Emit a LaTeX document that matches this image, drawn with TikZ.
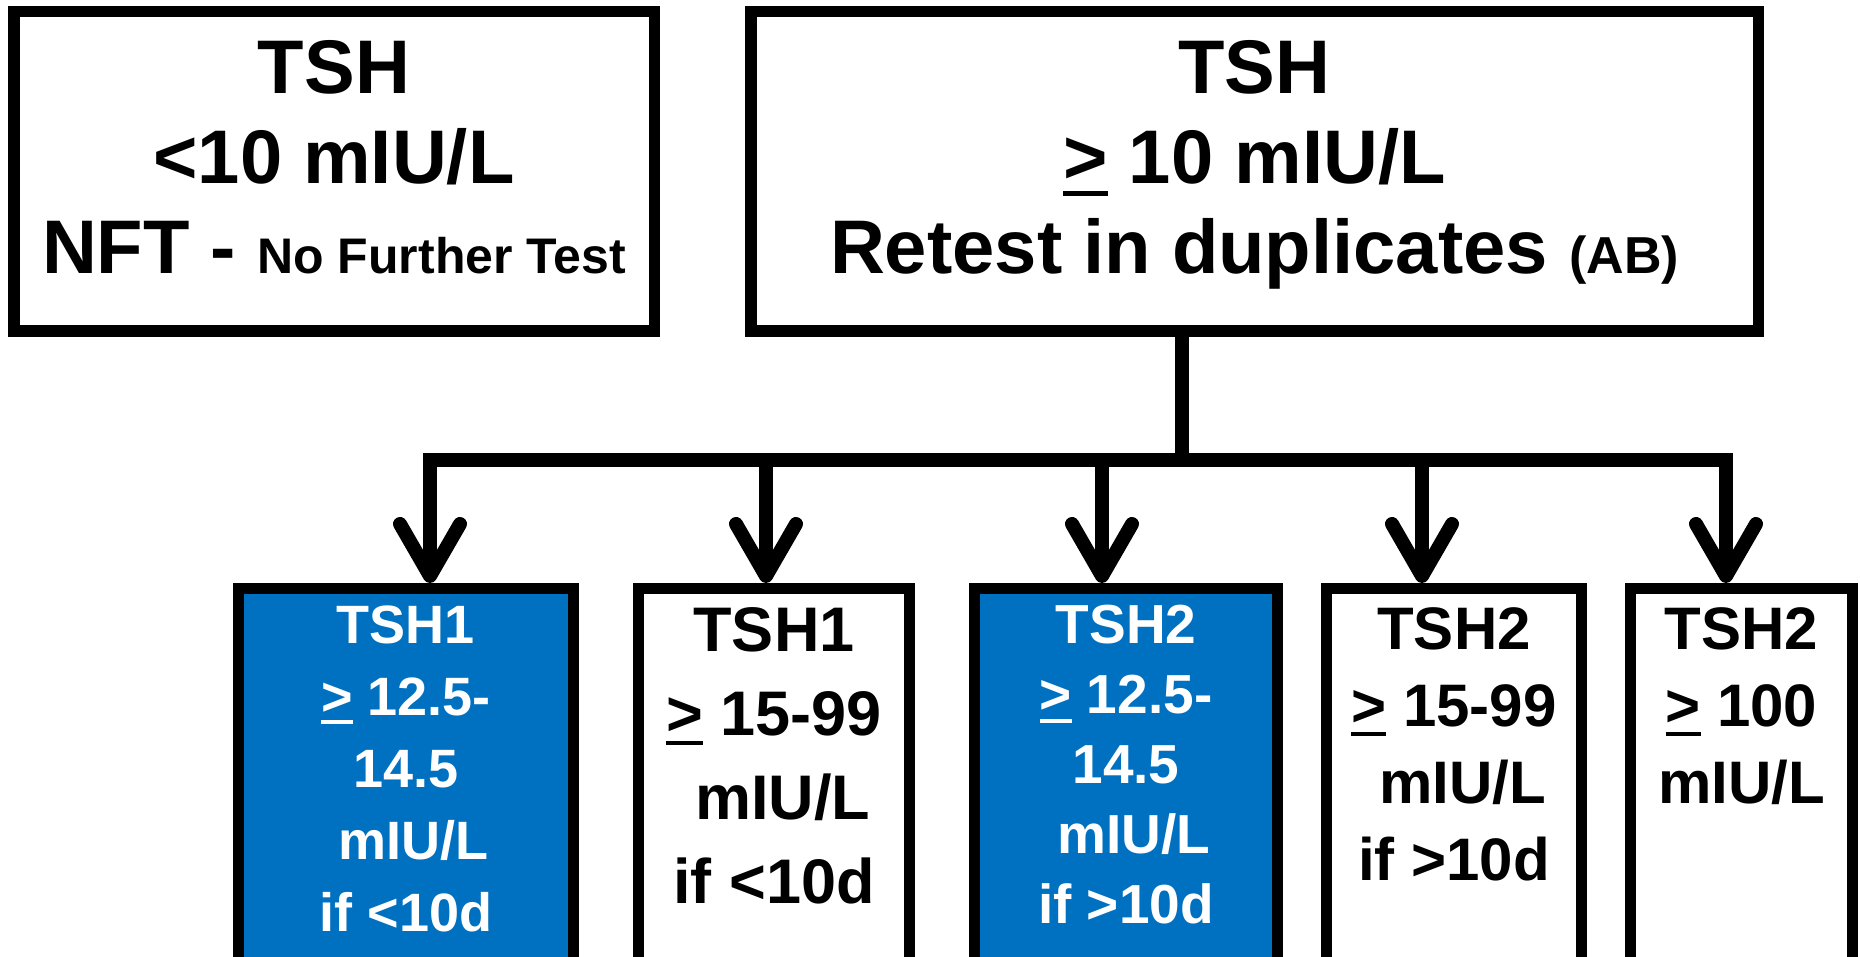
\documentclass[tikz,border=0pt]{standalone}
\usepackage{fontspec}
\setmainfont{Liberation Sans}
\usetikzlibrary{arrows.meta, positioning}
\definecolor{testblue}{HTML}{0070C0}
% underlined ">" as printed in the chart
\newcommand{\ugt}{\setbox0\hbox{>}\rlap{\rule[-0.16em]{\wd0}{0.065em}}\box0}
\tikzset{
  topbox/.style={rectangle, draw=black, line width=5.75pt, fill=white,
                 minimum height=159.75pt, minimum width=#1},
  lowbox/.style={rectangle, draw=black, line width=5.5pt, fill=white,
                 minimum height=200.75pt, minimum width=#1},
  bluebox/.style={lowbox=#1, fill=testblue},
  txt/.style 2 args={inner sep=0pt, align=center,
                     font=\bfseries\fontsize{#1}{#2}\selectfont},
  conn/.style={line width=7pt},
  arr/.style={conn, -{Straight Barb[length=26pt, width=30pt, round]}},
}

\begin{document}
\begin{tikzpicture}[x=0.5pt, y=-0.5pt]
  \clip (0,0) rectangle (1860,957);

  % first screen result
  \node[topbox=320.25pt] (low) at (334,171.5) {};
  \node[topbox=503.75pt] (high) at (1254.5,171.5) {};
  \node[txt={38}{45}, below=17pt of low.north] (lowtxt)
    {TSH\\<10 mIU/L\\NFT - {\fontsize{25}{30}\selectfont No Further Test}};
  \node[txt={38}{45}, below=17pt of high.north] (hightxt)
    {TSH\\\ugt{} 10 mIU/L\\Retest in duplicates {\fontsize{26}{30}\selectfont (AB)}};

  % retest outcomes
  \node[bluebox=167.5pt] (r1) at (406,789.25) {};
  \node[lowbox=135.5pt] (r2) at (774,789.25) {};
  \node[bluebox=151.5pt] (r3) at (1126,789.25) {};
  \node[lowbox=127.5pt] (r4) at (1454,789.25) {};
  \node[lowbox=111pt] (r5) at (1741.5,789.25) {};

  \node[txt={27}{36}, white, below=11pt of r1.north] (r1txt)
    {TSH1\\\ugt{} 12.5-\\14.5\\\ mIU/L\\if <10d};
  \node[txt={31.5}{42}, below=12pt of r2.north] (r2txt)
    {TSH1\\\ugt{} 15-99\\\ mIU/L\\if <10d};
  \node[txt={27.5}{35}, white, below=11pt of r3.north] (r3txt)
    {TSH2\\\ugt{} 12.5-\\14.5\\\ mIU/L\\if >10d};
  \node[txt={30}{38.5}, below=12pt of r4.north] (r4txt)
    {TSH2\\\ugt{} 15-99\\\ mIU/L\\if >10d};
  \node[txt={30}{38.5}, below=12pt of r5.north] (r5txt)
    {TSH2\\\ugt{} 100\\mIU/L};

  % branching connector
  \coordinate (split) at (1182,460);
  \coordinate (j1) at (430,460);
  \coordinate (j2) at (766,460);
  \coordinate (j3) at (1102,460);
  \coordinate (j4) at (1422,460);
  \coordinate (j5) at (1726,460);
  \draw[conn] (split |- high.south) -- (split);
  \draw[conn, line cap=rect] (j1) -- (j5);
  \foreach \i in {1,...,5}
    \draw[arr] (j\i) -- (j\i |- r\i.north);
\end{tikzpicture}
\end{document}
